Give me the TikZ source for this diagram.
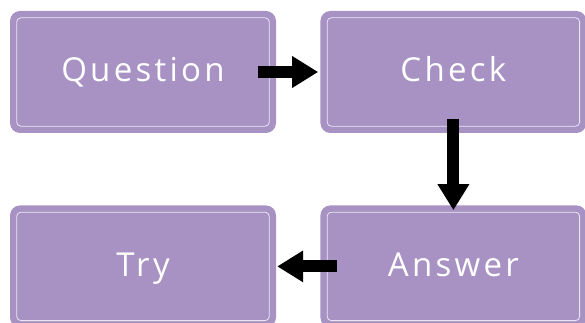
\documentclass[tikz,border=0pt]{standalone}
\usepackage{xcolor}
\usepackage{fontspec}
\usepackage{tikz}
\usetikzlibrary{positioning,calc,arrows.meta}

\newfontfamily\boxfont[LetterSpace=10]{Open Sans}
\definecolor{boxpurple}{RGB}{168,146,196}
\definecolor{boxline}{RGB}{236,230,243}

\begin{document}
\begin{tikzpicture}[x=1pt,y=-1pt, line cap=round, line join=round]
				% ===== khung =====
				\useasboundingbox (0,0) rectangle (585,323);
				\clip (0,0) rectangle (585,323);
				
				% ===== style =====
				\tikzset{stagebox/.style={fill=boxpurple, rounded corners=10pt, minimum width=266pt, minimum height=122pt, inner sep=0pt, text height=26pt, text depth=6pt, text=white, font=\boxfont\fontsize{33}{38}\selectfont},
					innerline/.style={draw=boxline, line width=0.8pt, rounded corners=4pt},
					bigarrow/.style={draw=black, line width=12pt, line cap=butt, -{Triangle[width=30pt,length=26pt]}}}
				
				% ===== cac o =====
				\node[stagebox] (question) at (143,72) {Question};
				\node[stagebox, right=44pt of question] (check) {Check};
				\node[stagebox, below=72pt of check] (answer) {Answer};
				\node[stagebox, left=44pt of answer] (try) {Try};
				
				% ===== vien trong =====
				\foreach \n in {question,check,answer,try}{
					\draw[innerline] ([shift={(7pt,7pt)}]\n.south west) rectangle ([shift={(-7pt,-7pt)}]\n.north east);
				}
				
				% ===== mui ten =====
				\draw[bigarrow, shorten <=-18pt, shorten >=2pt] (question.east) -- (check.west);
				\draw[bigarrow, shorten <=-14pt, shorten >=-5pt] (check.south) -- (answer.north);
				\draw[bigarrow, shorten <=-17pt, shorten >=1pt] (answer.west) -- (try.east);
			\end{tikzpicture}
\end{document}
